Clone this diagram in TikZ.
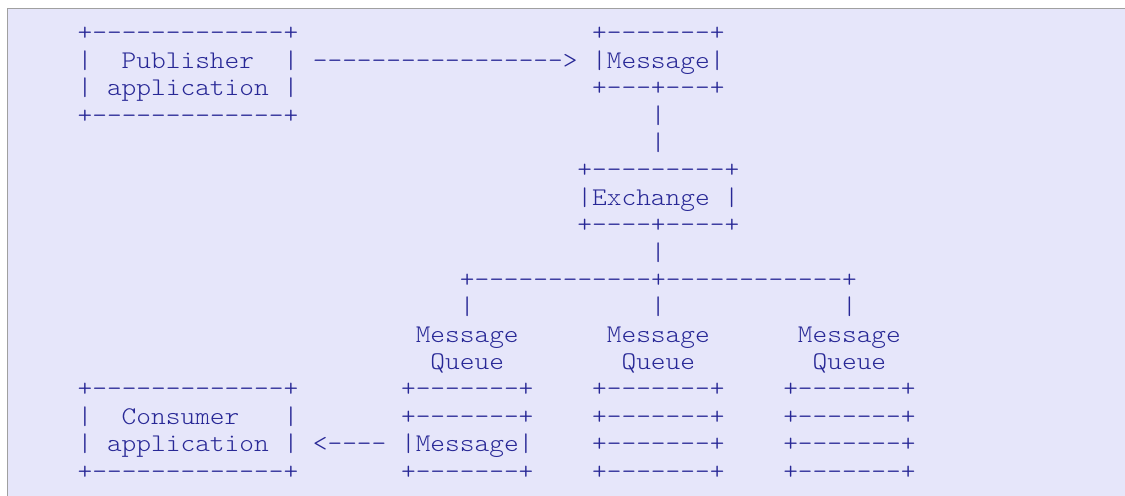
\documentclass[tikz,border=0pt]{standalone}
\usepackage{fontspec}
\setmonofont{lmmonolt10-regular.otf}[FakeStretch=1.1]
\definecolor{pretext}{RGB}{40,40,150}
\definecolor{prebg}{RGB}{230,230,250}
\definecolor{preborder}{RGB}{160,160,160}
\tikzset{ascii/.style={anchor=base west, inner sep=0pt, outer sep=0pt, text=pretext,
    font=\fontsize{19.1}{22}\selectfont\ttfamily}}

\begin{document}
\begin{tikzpicture}[x=0.75pt, y=-0.75pt,
        declare function={cx(\x)=77.65+14.7*\x; ry(\y)=40.9+27.39*\y;}]
                \useasboundingbox (0,0) rectangle (1125,496);
                \clip (0,0) rectangle (1125,496);
                \filldraw[fill=prebg, draw=preborder] (7.5,8.5) rectangle (1135,505);
                % publisher and first message
                \node[ascii] (pubtop) at ({cx(0)},{ry(0)}) {+-------------+};
                \node[ascii] (pubA) at ({cx(0)},{ry(1)}) {|~~Publisher~~|};
                \node[ascii] (pubB) at ({cx(0)},{ry(2)}) {|~application~|};
                \node[ascii] (pubbot) at ({cx(0)},{ry(3)}) {+-------------+};
                \node[ascii] (pubarrow) at ({cx(16)},{ry(1)}) {----------------->};
                \node[ascii] (msgtop) at ({cx(35)},{ry(0)}) {+-------+};
                \node[ascii] (msg) at ({cx(35)},{ry(1)}) {|Message|};
                \node[ascii] (msgbot) at ({cx(35)},{ry(2)}) {+---+---+};
                \node[ascii] (linkA) at ({cx(39)},{ry(3)}) {|};
                \node[ascii] (linkB) at ({cx(39)},{ry(4)}) {|};
                % exchange
                \node[ascii] (exchtop) at ({cx(34)},{ry(5)}) {+---------+};
                \node[ascii] (exch) at ({cx(34)},{ry(6)}) {|Exchange~|};
                \node[ascii] (exchbot) at ({cx(34)},{ry(7)}) {+----+----+};
                \node[ascii] (linkC) at ({cx(39)},{ry(8)}) {|};
                \node[ascii] (split) at ({cx(26)},{ry(9)}) {+------------+------------+};
                \node[ascii] (barA) at ({cx(26)},{ry(10)}) {|};
                \node[ascii] (barB) at ({cx(39)},{ry(10)}) {|};
                \node[ascii] (barC) at ({cx(52)},{ry(10)}) {|};
                % queues
                \node[ascii] (qnameA) at ({cx(23)},{ry(11)}) {Message};
                \node[ascii] (qnameB) at ({cx(36)},{ry(11)}) {Message};
                \node[ascii] (qnameC) at ({cx(49)},{ry(11)}) {Message};
                \node[ascii] (qwordA) at ({cx(24)},{ry(12)}) {Queue};
                \node[ascii] (qwordB) at ({cx(37)},{ry(12)}) {Queue};
                \node[ascii] (qwordC) at ({cx(50)},{ry(12)}) {Queue};
                \node[ascii] (qA0) at ({cx(22)},{ry(13)}) {+-------+};
                \node[ascii] (qA1) at ({cx(22)},{ry(14)}) {+-------+};
                \node[ascii] (qA2) at ({cx(22)},{ry(15)}) {|Message|};
                \node[ascii] (qA3) at ({cx(22)},{ry(16)}) {+-------+};
                \node[ascii] (qB0) at ({cx(35)},{ry(13)}) {+-------+};
                \node[ascii] (qB1) at ({cx(35)},{ry(14)}) {+-------+};
                \node[ascii] (qB2) at ({cx(35)},{ry(15)}) {+-------+};
                \node[ascii] (qB3) at ({cx(35)},{ry(16)}) {+-------+};
                \node[ascii] (qC0) at ({cx(48)},{ry(13)}) {+-------+};
                \node[ascii] (qC1) at ({cx(48)},{ry(14)}) {+-------+};
                \node[ascii] (qC2) at ({cx(48)},{ry(15)}) {+-------+};
                \node[ascii] (qC3) at ({cx(48)},{ry(16)}) {+-------+};
                % consumer
                \node[ascii] (contop) at ({cx(0)},{ry(13)}) {+-------------+};
                \node[ascii] (conA) at ({cx(0)},{ry(14)}) {|~~Consumer~~~|};
                \node[ascii] (conB) at ({cx(0)},{ry(15)}) {|~application~|};
                \node[ascii] (conbot) at ({cx(0)},{ry(16)}) {+-------------+};
                \node[ascii] (conarrow) at ({cx(16)},{ry(15)}) {<----};

            \end{tikzpicture}
\end{document}
